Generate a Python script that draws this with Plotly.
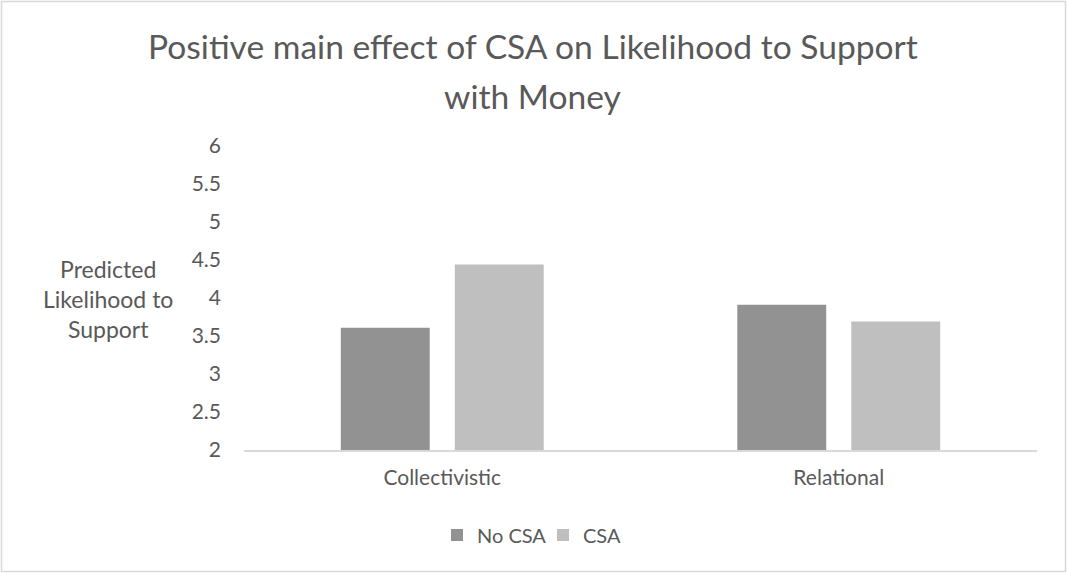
import plotly.graph_objects as go

# Data
categories = ["Collectivistic", "Relational"]
no_csa = [3.61, 3.91]
csa = [4.44, 3.69]
y_ticks = [2, 2.5, 3, 3.5, 4, 4.5, 5, 5.5, 6]
tick_text = ["2", "2.5", "3", "3.5", "4", "4.5", "5", "5.5", "6"]

FONT = "Lato"
TXT = "#595959"
W, H = 1067, 573
ML, MR, MT, MB = 244, 30, 146, 123
PW = W - ML - MR
PH = H - MT - MB


def px_to_paper_x(px):
    return (px - ML) / PW


def px_to_paper_y(py):
    return (H - MB - py) / PH


fig = go.Figure()
fig.add_trace(go.Bar(name="No CSA", x=categories, y=no_csa,
                     marker=dict(color="#929292", line=dict(width=0))))
fig.add_trace(go.Bar(name="CSA", x=categories, y=csa,
                     marker=dict(color="#bfbfbf", line=dict(width=0))))

fig.update_layout(
    width=W, height=H,
    margin=dict(l=ML, r=MR, t=MT, b=MB),
    paper_bgcolor="white", plot_bgcolor="white",
    barmode="group", bargap=0.425, bargroupgap=0.22,
    font=dict(family=FONT, color=TXT, size=21),
    showlegend=True,
    legend=dict(orientation="h", x=px_to_paper_x(437), xanchor="left",
                y=px_to_paper_y(535), yanchor="middle",
                font=dict(size=20, color=TXT),
                entrywidth=61, entrywidthmode="pixels",
                traceorder="normal"),
    xaxis=dict(showline=True, linecolor="#d9d9d9", linewidth=1.5,
               ticks="", showgrid=False, ticklabelstandoff=8,
               tickfont=dict(size=21, color=TXT)),
    yaxis=dict(range=[2, 6], tickvals=y_ticks, ticktext=tick_text,
               showline=False, showgrid=False, zeroline=False, ticks="",
               ticklabelstandoff=22,
               tickfont=dict(size=21, color=TXT)),
)

# Chart title (two lines)
fig.add_annotation(text="Positive main effect of CSA on Likelihood to Support",
                   xref="paper", yref="paper", x=px_to_paper_x(533), y=px_to_paper_y(46),
                   xanchor="center", yanchor="middle", showarrow=False,
                   font=dict(size=33.6, color=TXT, family=FONT))
fig.add_annotation(text="with Money",
                   xref="paper", yref="paper", x=px_to_paper_x(533), y=px_to_paper_y(96),
                   xanchor="center", yanchor="middle", showarrow=False,
                   font=dict(size=33.6, color=TXT, family=FONT))

# Horizontal y-axis title
fig.add_annotation(text="Predicted<br>Likelihood to<br>Support",
                   xref="paper", yref="paper", x=px_to_paper_x(108), y=px_to_paper_y(299),
                   xanchor="center", yanchor="middle", showarrow=False, align="center",
                   font=dict(size=23, color=TXT, family=FONT))

# Chart border
fig.add_shape(type="rect", xref="paper", yref="paper",
              x0=px_to_paper_x(1.5), x1=px_to_paper_x(1065.5),
              y0=px_to_paper_y(571.5), y1=px_to_paper_y(1.5),
              line=dict(color="#d9d9d9", width=1.5), fillcolor="rgba(0,0,0,0)", layer="below")

fig.write_html("out.html")
